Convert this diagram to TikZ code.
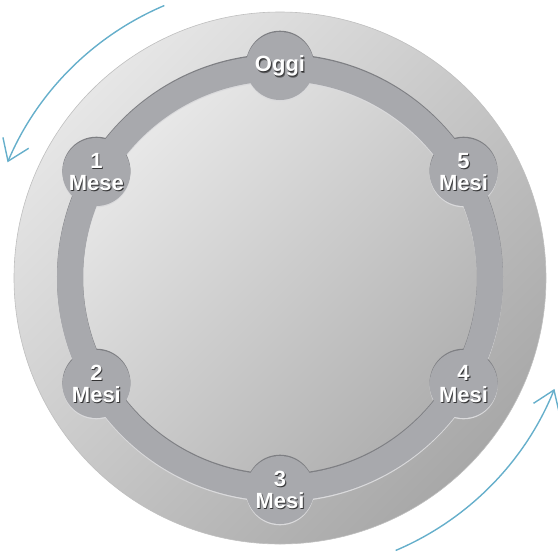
\documentclass[tikz,border=0pt]{standalone}
\usepackage{fontspec}
\setmainfont{Liberation Sans}
\usetikzlibrary{arrows.meta,calc}
\definecolor{trackc}{HTML}{A8A9AD}
\definecolor{trackdark}{HTML}{7E7F83}
\definecolor{tracklight}{HTML}{DADADC}
\definecolor{arrowc}{HTML}{66AFCB}
\definecolor{outtop}{HTML}{E6E6E6}
\definecolor{outbot}{HTML}{A8A8A8}
\definecolor{intop}{HTML}{E8E8E8}
\definecolor{inbot}{HTML}{B0B0B0}
\tikzset{
  stagedisk/.style={circle, minimum size=68pt, inner sep=0pt},
  stagetext/.style={text=white, align=center, inner sep=0pt,
    font=\bfseries\fontsize{22}{22}\selectfont},
  stageshadow/.style={stagetext, text=black, opacity=0.45},
  cyclearrow/.style={arrowc, line width=1.4pt,
    -{Straight Barb[length=20pt,width=28pt]}},
}
\newcommand\cutshape[2]{%
  \draw[#1, line width=26pt] ($(C)+#2$) circle[radius=210pt];
  \foreach \ang in {90,150,210,270,330,30}
    \fill[#1] ($(C)+#2+(\ang:212pt)$) circle[radius=34pt];
}
\begin{document}
\begin{tikzpicture}
\useasboundingbox (0,0) rectangle (558pt,-558pt);
\coordinate (C) at (280pt,-278pt);
% big disk
\shade[top color=outtop, bottom color=outbot, shading angle=45]
  (C) circle[radius=266pt];
\draw[gray!50, line width=0.6pt] (C) circle[radius=266pt];
% inner disk
\shade[top color=intop, bottom color=inbot, shading angle=45]
  (C) circle[radius=200pt];
% recessed track with stage circles
\cutshape{tracklight}{(0pt,-1.3pt)}
\cutshape{trackdark}{(0pt,1.3pt)}
\cutshape{trackc}{(0pt,0pt)}
% stage nodes
\foreach \ang/\i in {90/0,150/1,210/2,270/3,330/4,30/5}
  \node[stagedisk] (s\i) at ($(C)+(\ang:212pt)$) {};
% shadows of texts
\foreach \sx/\sy in {0.6/-0.6,1.2/-1.4}{
  \node[stageshadow] at ([shift={(\sx pt,\sy pt)}]s0.center) {Oggi};
  \node[stageshadow] at ([shift={(\sx pt,\sy pt)}]s1.center) {1\\Mese};
  \node[stageshadow] at ([shift={(\sx pt,\sy pt)}]s2.center) {2\\Mesi};
  \node[stageshadow] at ([shift={(\sx pt,\sy pt)}]s3.center) {3\\Mesi};
  \node[stageshadow] at ([shift={(\sx pt,\sy pt)}]s4.center) {4\\Mesi};
  \node[stageshadow] at ([shift={(\sx pt,\sy pt)}]s5.center) {5\\Mesi};
}
% texts
\node[stagetext] (t0) at (s0.center) {Oggi};
\node[stagetext] (t1) at (s1.center) {1\\Mese};
\node[stagetext] (t2) at (s2.center) {2\\Mesi};
\node[stagetext] (t3) at (s3.center) {3\\Mesi};
\node[stagetext] (t4) at (s4.center) {4\\Mesi};
\node[stagetext] (t5) at (s5.center) {5\\Mesi};
% arrows
\coordinate (a1) at ($(C)+(113:296pt)$);
\coordinate (a2) at ($(C)+(-67:296pt)$);
\draw[cyclearrow] (a1) arc[start angle=113, end angle=157, radius=296pt];
\draw[cyclearrow] (a2) arc[start angle=-67, end angle=-22, radius=296pt];
\end{tikzpicture}
\end{document}
